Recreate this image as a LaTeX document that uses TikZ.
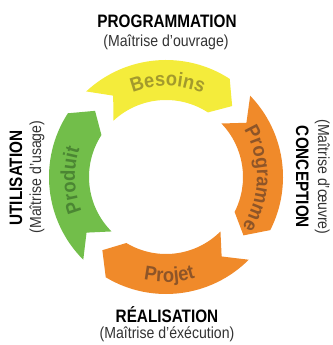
\documentclass[tikz,border=0pt]{standalone}
\usepackage{fontspec}
\setmainfont{Liberation Sans}
\newfontfamily\titlefont[FakeStretch=0.85]{Liberation Sans}
\newfontfamily\subfont[FakeStretch=0.88]{Liberation Sans}
\newfontfamily\motfont[FakeStretch=0.92]{Liberation Sans}
\usetikzlibrary{decorations.text}
\definecolor{jaune}{HTML}{F4EC3B}
\definecolor{orange}{HTML}{F08A2A}
\definecolor{vert}{HTML}{72BE4A}
\definecolor{jaunetxt}{HTML}{A39A2C}
\definecolor{orangetxt}{HTML}{8E5528}
\definecolor{verttxt}{HTML}{4B8633}
\definecolor{gris}{HTML}{333333}
\newcommand\segfont{\motfont\bfseries\fontsize{20}{20}\selectfont}

\begin{document}
\begin{tikzpicture}[x=1pt,y=1pt,
    titre/.style={font=\titlefont\bfseries\fontsize{18}{18}\selectfont, anchor=base, inner sep=0pt},
    soustitre/.style={font=\subfont\fontsize{16}{16}\selectfont, text=gris, anchor=base, inner sep=0pt},
    motarc/.style 2 args={decorate, decoration={text along path, text align=center, text color=#1, text={|\segfont|#2}}}]
    \useasboundingbox (0,0) rectangle (332,345);
    \coordinate (c) at (166,168);
    \def\segs{133/57/jaune,44/-27/orange,-45/-121/orange,225/147/vert}
    %         tail/head/fill
    \foreach \a/\b/\col [count=\i from 1] in \segs {\fill[\col] ([shift={(\a:117)}]c) arc[start angle=\a, end angle=\b, radius=117] -- ([shift={({\b-10}:97)}]c) -- ([shift={(\b:77)}]c) arc[start angle=\b, end angle=\a, radius=77] -- ([shift={({\a-10}:97)}]c) -- cycle;}
    \path[motarc={jaunetxt}{Besoins}] ([shift={(124:91)}]c) arc[start angle=124, end angle=54, radius=91];
    \path[motarc={orangetxt}{Programme}] ([shift={(34:91)}]c) arc[start angle=34, end angle=-36, radius=91];
    \path[motarc={orangetxt}{Projet}] ([shift={(-123:105)}]c) arc[start angle=-123, end angle=-53, radius=105];
    \path[motarc={verttxt}{Produit}] ([shift={(217:91)}]c) arc[start angle=217, end angle=147, radius=91];
    \node[titre] (prog) at (167,317) {PROGRAMMATION};
    \node[soustitre] (moa) at (166,298) {(Maîtrise d’ouvrage)};
    \node[titre, rotate=-90] (conc) at (296,168) {CONCEPTION};
    \node[soustitre, rotate=-90] (moe) at (318,168) {(Maîtrise d’œuvre)};
    \node[titre] (real) at (167,23) {RÉALISATION};
    \node[soustitre] (mex) at (167,6) {(Maîtrise d’éxécution)};
    \node[titre, rotate=90] (util) at (22,167) {UTILISATION};
    \node[soustitre, rotate=90] (mus) at (41,168) {(Maîtrise d’usage)};
\end{tikzpicture}
\end{document}
